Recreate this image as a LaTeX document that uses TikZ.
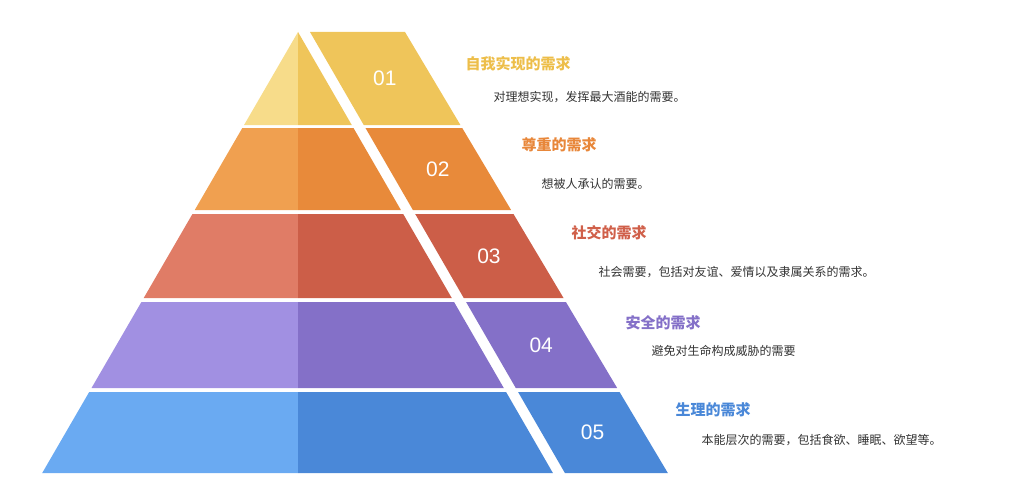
\documentclass[tikz,border=0pt]{standalone}
\usepackage{fontspec}
\setmainfont{Noto Sans CJK SC}
\newfontfamily\numfont{Liberation Sans}
\definecolor{la}{HTML}{F7DC8A}\definecolor{da}{HTML}{EFC55A}\definecolor{ta}{HTML}{EDBE4A}
\definecolor{lb}{HTML}{F0A050}\definecolor{db}{HTML}{E88A3A}\definecolor{tb}{HTML}{E8873A}
\definecolor{lc}{HTML}{E07C66}\definecolor{dc}{HTML}{CC5E48}\definecolor{tc}{HTML}{D0604A}
\definecolor{ld}{HTML}{A190E2}\definecolor{dd}{HTML}{8470C8}\definecolor{td}{HTML}{8470C8}
\definecolor{le}{HTML}{6AAAF2}\definecolor{de}{HTML}{4A88D8}\definecolor{te}{HTML}{4A88D8}
\definecolor{desc}{HTML}{333333}
\tikzset{num/.style={text=white,font=\numfont\fontsize{21}{21}\selectfont,anchor=center},
 ttl/.style={font=\bfseries\fontsize{15}{15}\selectfont,anchor=west},
 dsc/.style={text=desc,font=\fontsize{12}{12}\selectfont,anchor=west}}
\begin{document}
\begin{tikzpicture}[x=1pt,y=-1pt]
\useasboundingbox (0,0) rectangle (1024,492);
\foreach \t/\b/\cl/\cd/\i/\ct/\tx/\ty/\dx/\dy/\T/\D in {
 32/125/la/da/01/ta/462/64/490/97/自我实现的需求/对理想实现，发挥最大酒能的需要。,
 128/210/lb/db/02/tb/518/145/538/184/尊重的需求/想被人承认的需要。,
 214/298/lc/dc/03/tc/568/233/595/272/社交的需求/社会需要，包括对友谊、爱情以及隶属关系的需求。,
 302/388/ld/dd/04/td/622/323/648/351/安全的需求/避免对生命构成威胁的需要,
 392/473/le/de/05/te/672/410/698/440/生理的需求/本能层次的需要，包括食欲、睡眠、欲望等。}{
 \pgfmathsetmacro\Lt{298-0.58*(\t-32)}\pgfmathsetmacro\Lb{298-0.58*(\b-32)}
 \pgfmathsetmacro\At{298+0.578*(\t-32)}\pgfmathsetmacro\Ab{298+0.578*(\b-32)}
 \pgfmathsetmacro\St{310+0.578*(\t-32)}\pgfmathsetmacro\Sb{310+0.578*(\b-32)}
 \pgfmathsetmacro\Rt{405+0.596*(\t-32)}\pgfmathsetmacro\Rb{405+0.596*(\b-32)}
 \fill[\cl] (\Lt,\t) -- (298,\t) -- (298,\b) -- (\Lb,\b) -- cycle;
 \fill[\cd] (298,\t) -- (\At,\t) -- (\Ab,\b) -- (298,\b) -- cycle;
 \fill[\cd] (\St,\t) -- (\Rt,\t) -- (\Rb,\b) -- (\Sb,\b) -- cycle;
 \node[num] (n\i) at ({(\St+\Rt+\Sb+\Rb)/4},{(\t+\b)/2}) {\i};
 \node[ttl,text=\ct] (t\i) at (\tx,\ty) {\T};
 \node[dsc] (d\i) at (\dx,\dy) {\D};
}
\end{tikzpicture}
\end{document}
